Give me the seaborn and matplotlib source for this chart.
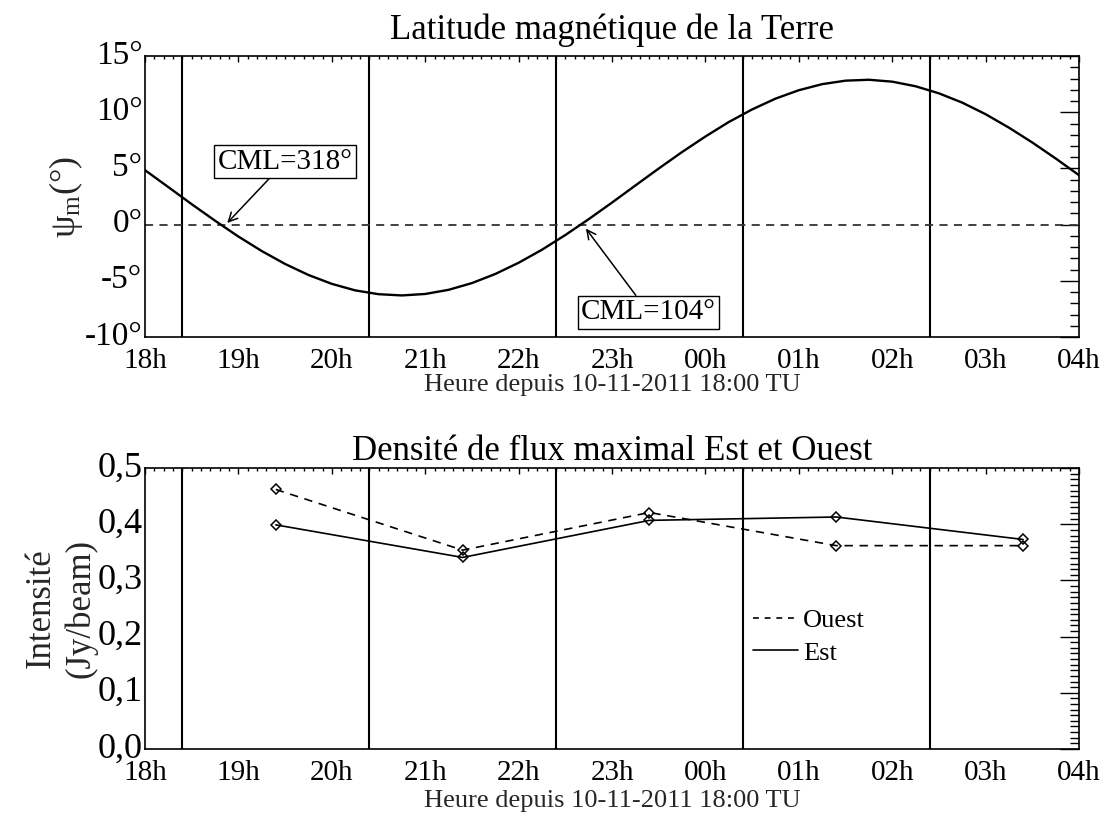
import matplotlib
matplotlib.use("Agg")
import matplotlib.pyplot as plt
from matplotlib.lines import Line2D
from matplotlib.ticker import MultipleLocator, FixedLocator, FixedFormatter
from matplotlib.transforms import ScaledTranslation
import pandas as pd
import seaborn as sns

# Hours elapsed since 10-11-2011 18:00 TU
hour_ticks = [0, 1, 2, 3, 4, 5, 6, 7, 8, 9, 10]
hour_labels = ["18h", "19h", "20h", "21h", "22h", "23h",
               "00h", "01h", "02h", "03h", "04h"]

# Magnetic latitude of the Earth (degrees), every 15 minutes
lat_hours = [0.0, 0.25, 0.5, 0.75, 1.0, 1.25, 1.5, 1.75, 2.0, 2.25,
             2.5, 2.75, 3.0, 3.25, 3.5, 3.75, 4.0, 4.25, 4.5, 4.75,
             5.0, 5.25, 5.5, 5.75, 6.0, 6.25, 6.5, 6.75, 7.0, 7.25,
             7.5, 7.75, 8.0, 8.25, 8.5, 8.75, 9.0, 9.25, 9.5, 9.75, 10.0]
lat_values = [4.85, 3.34, 1.82, 0.35, -1.06, -2.35, -3.50, -4.48, -5.27, -5.85,
              -6.19, -6.30, -6.17, -5.80, -5.20, -4.39, -3.39, -2.23, -0.92, 0.49,
              1.97, 3.49, 5.00, 6.47, 7.85, 9.14, 10.26, 11.22, 11.97, 12.51,
              12.82, 12.90, 12.73, 12.32, 11.69, 10.86, 9.83, 8.63, 7.31, 5.89, 4.40]
lat_ticks = [-10, -5, 0, 5, 10, 15]
lat_tick_labels = ["-10°", "-5°", "0°", "5°", "10°", "15°"]

# Boundaries of the observation intervals
obs_bounds = [0.4, 2.4, 4.4, 6.4, 8.4]

# Central meridian longitude annotations
cml_labels = ["CML=318°", "CML=104°"]
cml_target_h = [0.88, 4.72]
cml_target_deg = [0.15, -0.35]
cml_text_h = [1.50, 5.39]
cml_text_deg = [5.6, -7.8]

# Maximum flux density per interval (Jy/beam)
flux_hours = [1.4, 3.4, 5.4, 7.4, 9.4]
flux_ouest = [0.462, 0.354, 0.421, 0.362, 0.362]
flux_est = [0.399, 0.341, 0.407, 0.413, 0.373]
flux_ticks = [0.0, 0.1, 0.2, 0.3, 0.4, 0.5]
flux_tick_labels = ["0,0", "0,1", "0,2", "0,3", "0,4", "0,5"]

sns.set_theme(style="white")
plt.rcParams["font.family"] = ["Liberation Serif", "DejaVu Serif"]
plt.rcParams["mathtext.fontset"] = "custom"
plt.rcParams["mathtext.rm"] = "Liberation Serif"
plt.rcParams["mathtext.it"] = "Liberation Serif:italic"
plt.rcParams["axes.edgecolor"] = "black"
plt.rcParams["text.color"] = "black"
plt.rcParams["xtick.color"] = "black"
plt.rcParams["ytick.color"] = "black"

fig = plt.figure(figsize=(11.08, 8.14), dpi=100)
ax1 = fig.add_axes([0.1309, 0.586, 0.843, 0.345])
ax2 = fig.add_axes([0.1309, 0.0799, 0.843, 0.345])


def style_axes(ax, xlabelpad, ylabelsize):
    for sp in ax.spines.values():
        sp.set_linewidth(1.2)
        sp.set_color("black")
    ax.set_xlim(hour_ticks[0], hour_ticks[-1])
    ax.xaxis.set_major_locator(FixedLocator(hour_ticks))
    ax.xaxis.set_major_formatter(FixedFormatter(hour_labels))
    ax.xaxis.set_minor_locator(MultipleLocator(0.1))
    ax.tick_params(axis="both", which="both", direction="in",
                   top=True, right=True, width=1.0)
    ax.tick_params(axis="x", which="major", length=4.5, labelsize=21, pad=8)
    ax.tick_params(axis="x", which="minor", length=2.2)
    ax.tick_params(axis="y", which="major", length=13.5, labelsize=ylabelsize, pad=2)
    ax.tick_params(axis="y", which="minor", length=6.5)
    ax.set_xlabel("Heure depuis 10-11-2011 18:00 TU", fontsize=19,
                  labelpad=xlabelpad)
    for b in obs_bounds:
        ax.axvline(b, color="black", lw=1.5, zorder=1)


def lift_ytick_labels(ax, points):
    shift = ScaledTranslation(0, points / 72, fig.dpi_scale_trans)
    for lab in ax.get_yticklabels():
        lab.set_transform(lab.get_transform() + shift)


# --- Top panel: magnetic latitude ---
style_axes(ax1, xlabelpad=0, ylabelsize=24)
lat_df = pd.DataFrame({"heure": lat_hours, "psi": lat_values})
sns.lineplot(data=lat_df, x="heure", y="psi", ax=ax1, color="black",
             lw=1.7, zorder=3)
ax1.axhline(0, color="#333333", lw=1.3, ls=(0, (4.5, 3.5)), zorder=2)
ax1.set_ylim(lat_ticks[0], lat_ticks[-1])
ax1.yaxis.set_major_locator(FixedLocator(lat_ticks))
ax1.yaxis.set_major_formatter(FixedFormatter(lat_tick_labels))
ax1.yaxis.set_minor_locator(MultipleLocator(1))
ax1.set_ylabel(r"ψ$_{\mathrm{m}}$(°)", fontsize=26, labelpad=0)
ax1.set_title("Latitude magnétique de la Terre", fontsize=25, pad=12)
lift_ytick_labels(ax1, 3)

for lab, th, td, xh, xd in zip(cml_labels, cml_target_h, cml_target_deg,
                               cml_text_h, cml_text_deg):
    ax1.annotate(lab, xy=(th, td), xytext=(xh, xd), ha="center", va="center",
                 fontsize=21, zorder=5,
                 bbox=dict(boxstyle="square,pad=0.12", fc="white", ec="black", lw=1.0),
                 arrowprops=dict(arrowstyle="->", color="black", lw=1.1,
                                 mutation_scale=16, shrinkA=0, shrinkB=0))

# --- Bottom panel: maximal flux density ---
style_axes(ax2, xlabelpad=3, ylabelsize=26)
flux_df = pd.DataFrame({"heure": flux_hours, "ouest": flux_ouest, "est": flux_est})
sns.lineplot(data=flux_df, x="heure", y="ouest", ax=ax2, color="black", lw=1.2,
             linestyle=(0, (5, 4)), marker="D", markersize=5.5,
             markerfacecolor="none", markeredgecolor="black", markeredgewidth=1.1)
sns.lineplot(data=flux_df, x="heure", y="est", ax=ax2, color="black", lw=1.2,
             marker="D", markersize=5.5,
             markerfacecolor="none", markeredgecolor="black", markeredgewidth=1.1)
ax2.set_ylim(flux_ticks[0], flux_ticks[-1])
ax2.yaxis.set_major_locator(FixedLocator(flux_ticks))
ax2.yaxis.set_major_formatter(FixedFormatter(flux_tick_labels))
ax2.yaxis.set_minor_locator(MultipleLocator(0.01))
ax2.set_ylabel("Intensité\n(Jy/beam)", fontsize=25, labelpad=0, linespacing=1.25)
ax2.set_title("Densité de flux maximal Est et Ouest", fontsize=25, pad=6)
lift_ytick_labels(ax2, 3)

handles = [Line2D([], [], color="black", lw=1.2, ls=(0, (3.5, 3.5))),
           Line2D([], [], color="black", lw=1.2)]
ax2.legend(handles, ["Ouest", "Est"], loc="center left",
           bbox_to_anchor=(0.651, 0.40), frameon=False, fontsize=19,
           handlelength=1.7, handletextpad=0.2, labelspacing=0.35,
           borderpad=0, borderaxespad=0)

fig.savefig("out.png", dpi=100, facecolor="white")
